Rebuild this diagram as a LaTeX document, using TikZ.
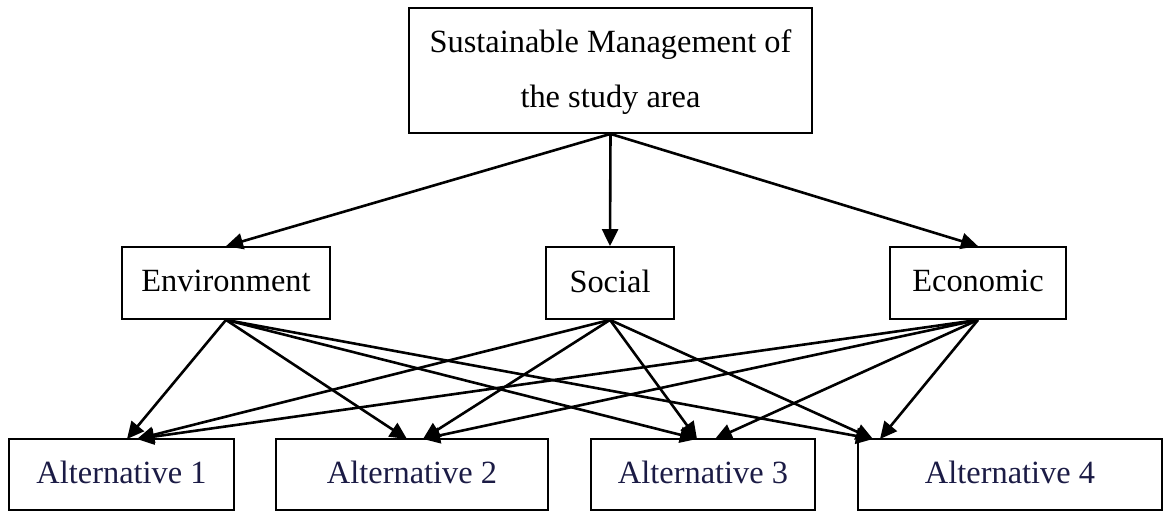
\documentclass[tikz,border=0pt]{standalone}
\usepackage{fontspec}
\setmainfont{Liberation Serif}
\usepackage{tikz}
\usetikzlibrary{arrows.meta}
\usepackage{xcolor}
\definecolor{AltNavy}{HTML}{1B1B45}

\begin{document}
\begin{tikzpicture}[x=0.5pt, y=-0.5pt,
        box/.style={draw, line width=0.9pt, inner sep=0pt, minimum height=36pt,
            text depth=2pt, font=\fontsize{16.2}{27.5}\selectfont},
        altbox/.style={box, minimum height=35.5pt, text=AltNavy},
        arr/.style={-{Triangle[length=8.5pt, width=8pt]}, line width=1.3pt}]
        \useasboundingbox (0,0) rectangle (1164,511);
        % goal
        \node[box, minimum width=201.5pt, minimum height=62.5pt, align=center] (goal) at (610.5,70.5)
            {Sustainable Management of\\the study area};
        % criteria
        \node[box, minimum width=104pt] (env) at (226,283) {Environment};
        \node[box, minimum width=64pt] (soc) at (610,283) {Social};
        \node[box, minimum width=88pt] (eco) at (978,283) {Economic};
        % alternatives
        \node[altbox, minimum width=112.5pt] (alt1) at (121.5,474.5) {Alternative 1};
        \node[altbox, minimum width=136pt] (alt2) at (412,474.5) {Alternative 2};
        \node[altbox, minimum width=112pt] (alt3) at (703,474.5) {Alternative 3};
        \node[altbox, minimum width=152pt] (alt4) at (1010,474.5) {Alternative 4};
        \coordinate (in1a) at (127,439);
        \coordinate (in1b) at (137,439);
        \coordinate (in2a) at (407,439);
        \coordinate (in2b) at (423,439);
        \coordinate (in3a) at (697,439);
        \coordinate (in3b) at (715,439);
        \coordinate (in4a) at (873,439);
        \coordinate (in4b) at (880,439);
        \draw[arr] (goal.south) -- (env.north);
        \draw[arr] (goal.south) -- (soc.north);
        \draw[arr] (goal.south) -- (eco.north);
        \draw[arr] (env.south) -- (in1a);
        \draw[arr] (env.south) -- (in2a);
        \draw[arr] (env.south) -- (in3a);
        \draw[arr] (env.south) -- (in4a);
        \draw[arr] (soc.south) -- (in1b);
        \draw[arr] (soc.south) -- (in2b);
        \draw[arr] (soc.south) -- (in3a);
        \draw[arr] (soc.south) -- (in4a);
        \draw[arr] (eco.south) -- (in1b);
        \draw[arr] (eco.south) -- (in2b);
        \draw[arr] (eco.south) -- (in3b);
        \draw[arr] (eco.south) -- (in4b);
    \end{tikzpicture}
\end{document}
